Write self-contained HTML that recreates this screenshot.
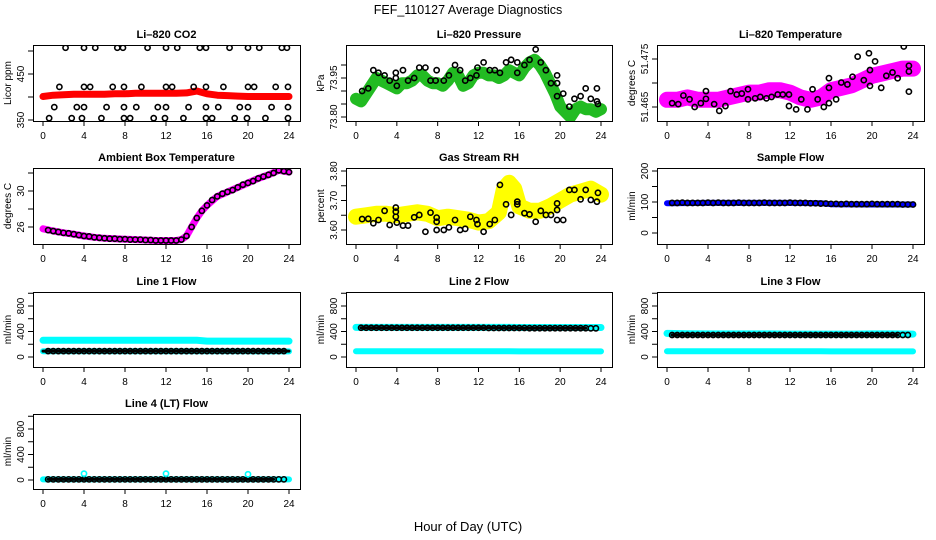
<!DOCTYPE html>
<html><head><meta charset="utf-8"><style>
html,body{margin:0;padding:0;background:#fff}
svg{display:block;font-family:"Liberation Sans",sans-serif}
</style></head><body>
<svg id="chart" width="936" height="540" viewBox="0 0 936 540" xmlns="http://www.w3.org/2000/svg">
<text x="468" y="14" text-anchor="middle" font-size="12.5">FEF_110127  Average Diagnostics</text>
<text x="468" y="531" text-anchor="middle" font-size="13">Hour of Day (UTC)</text>
</svg>
<script>
// ---------- data ----------
const xTicks=[0,4,8,12,16,20,24];
const co2BandH=[0,1,2,3,4,5,6,7,8,9,10,11,12,13,14,15,16,17,18,19,20,21,22,23,24];
const co2BandV=[401,404,405,406,406,406,406,407,407,408,408,408,408,408,409,413,407,404,403,402,401,401,401,401,401];
const co2BlackH=[2.2,4.0,5.1,7.25,7.8,10.2,12.0,13.1,15.3,15.9,18.2,20.0,21.1,23.3,23.8,
1.6,4.0,4.6,6.8,7.9,9.6,12.0,12.6,14.7,15.9,17.6,20.0,20.6,22.7,23.9,
1.1,3.3,4.0,6.2,7.9,9.1,11.2,12.0,14.2,15.9,17.1,19.2,20.0,22.3,23.9,
0.6,2.8,3.8,5.7,7.9,8.5,10.8,11.9,13.7,15.9,16.5,18.7,19.9,21.7,23.9];
const co2BlackV=[507,507,507,507,507,507,507,507,507,507,507,507,507,507,507,
422,422,422,422,422,422,422,422,422,422,422,422,422,422,422,
378,378,378,378,378,378,378,378,378,378,378,378,378,378,378,
354,354,354,354,354,354,354,354,354,354,354,354,354,354,354];
const prBandH=[0,0.5,1,1.5,2,2.5,3,3.5,4,4.5,5,5.5,6,6.5,7,7.5,8,8.5,9,9.5,10,10.5,11,11.5,12,12.5,13,13.5,14,14.5,15,15.5,16,16.5,17,17.5,18,18.5,19,19.5,20,20.5,21,21.5,22,22.5,23,23.5,24];
const prBandV=[73.87,73.86,73.89,73.92,73.95,73.94,73.93,73.92,73.91,73.93,73.93,73.94,73.96,73.96,73.94,73.93,73.93,73.92,73.94,73.97,73.96,73.92,73.93,73.96,73.97,73.97,73.96,73.96,73.95,73.96,73.98,73.97,73.96,73.99,74.01,74.02,74.00,73.97,73.93,73.89,73.84,73.82,73.80,73.83,73.84,73.83,73.83,73.82,73.83];
const prBlackH=[0.6,1.2,1.7,2.2,2.8,3.3,3.9,3.9,4.0,4.6,5.1,5.7,6.2,6.8,7.3,7.8,7.9,8.6,9.1,9.7,10.2,10.7,11.2,11.8,11.9,12.5,13.1,13.6,14.1,14.7,15.2,15.8,15.8,16.5,17.0,17.6,18.1,18.6,19.1,19.7,19.7,19.7,20.3,20.9,21.4,22.0,22.5,23.0,23.6,23.6,23.7];
const prBlackV=[73.90,73.91,73.98,73.97,73.96,73.94,73.97,73.95,73.92,73.98,73.94,73.95,73.99,73.99,73.94,73.94,73.98,73.94,73.96,74.00,73.98,73.94,73.95,73.96,73.99,74.01,73.98,73.98,73.97,74.01,74.02,74.01,73.97,74.00,74.02,74.06,74.01,73.98,73.93,73.93,73.96,73.88,73.89,73.84,73.87,73.88,73.91,73.87,73.91,73.86,73.85];
const ltBandH=[0,1,2,3,4,5,6,7,8,9,10,11,12,13,14,15,16,17,18,19,20,21,22,23,24];
const ltBandV=[51.4665,51.4665,51.467,51.4665,51.4665,51.4665,51.467,51.4675,51.468,51.468,51.4685,51.4685,51.468,51.467,51.4665,51.467,51.4685,51.469,51.4695,51.4705,51.4715,51.472,51.4725,51.473,51.473];
const ltBlackH=[0.5,1.1,1.6,2.2,2.7,3.3,3.8,3.8,4.6,5.1,5.7,6.2,6.8,7.3,7.9,7.9,8.6,9.1,9.7,10.2,10.8,11.3,11.9,11.9,12.6,13.1,13.7,14.2,14.7,15.3,15.8,15.8,15.8,16.5,17.0,17.6,18.1,18.6,19.2,19.7,19.8,19.8,20.3,20.9,21.4,22.0,22.5,23.1,23.6,23.6,23.6];
const ltBlackV=[51.4658,51.4656,51.4674,51.4666,51.465,51.4658,51.4683,51.4667,51.4656,51.4642,51.4652,51.4683,51.4676,51.4678,51.4687,51.4666,51.4668,51.4671,51.4668,51.4671,51.4676,51.4676,51.4676,51.4652,51.4645,51.4666,51.4645,51.4687,51.4666,51.465,51.471,51.469,51.4658,51.4666,51.4701,51.4697,51.4713,51.4755,51.4706,51.4762,51.4727,51.4694,51.4745,51.469,51.4715,51.4722,51.471,51.4776,51.4736,51.4724,51.4682];
const ambBandH=[0,1,2,3,4,5,6,7,8,9,10,11,12,13,13.5,14,14.5,15,15.5,16,17,18,19,20,21,22,23,23.5,24];
const ambBandV=[25.8,25.55,25.35,25.2,25.0,24.85,24.75,24.7,24.65,24.6,24.55,24.5,24.5,24.5,24.6,25.0,26.0,27.0,27.8,28.4,29.4,29.9,30.4,30.9,31.4,31.8,32.3,32.2,32.1];
const ambBlackH=[0.5,1,1.5,2,2.5,3,3.5,4,4.5,5,5.5,6,6.5,7,7.5,8,8.5,9,9.5,10,10.5,11,11.5,12,12.5,13,13.5,14,14.5,15,15.5,16,16.5,17,17.5,18,18.5,19,19.5,20,20.5,21,21.5,22,22.5,23,23.5,24];
const ambBlackV=[25.65,25.55,25.45,25.35,25.3,25.2,25.1,25.0,24.95,24.85,24.8,24.75,24.7,24.7,24.65,24.65,24.6,24.6,24.6,24.55,24.55,24.5,24.5,24.5,24.5,24.5,24.6,25.0,26.0,27.0,27.8,28.4,29.0,29.4,29.7,29.9,30.1,30.4,30.7,30.9,31.1,31.4,31.6,31.8,32.0,32.3,32.2,32.1];
const rhBandH=[0,1,2,3,4,5,6,7,8,9,10,11,12,13,14,14.5,15,15.5,16,17,18,19,20,21,22,23,24];
const rhBandV=[3.645,3.65,3.655,3.655,3.65,3.655,3.66,3.655,3.64,3.645,3.64,3.635,3.625,3.63,3.66,3.74,3.76,3.74,3.68,3.665,3.665,3.68,3.70,3.72,3.73,3.74,3.72];
const rhBlackH=[0.6,1.2,1.7,2.2,2.8,3.3,3.9,3.9,3.9,4.0,4.6,5.1,5.7,6.2,6.8,7.3,7.9,7.9,7.9,8.6,9.1,9.7,10.2,10.7,11.2,11.8,11.9,12.5,13.1,13.6,14.1,14.7,15.2,15.8,15.8,16.5,17.0,17.6,18.1,18.6,19.1,19.7,19.7,19.7,20.3,20.9,21.4,22.0,22.5,23.0,23.6,23.7];
const rhBlackV=[3.637,3.638,3.623,3.634,3.665,3.617,3.676,3.662,3.645,3.625,3.615,3.615,3.643,3.651,3.594,3.659,3.642,3.628,3.600,3.600,3.609,3.634,3.600,3.604,3.645,3.634,3.620,3.594,3.620,3.634,3.753,3.687,3.651,3.696,3.687,3.657,3.653,3.628,3.665,3.651,3.651,3.690,3.668,3.634,3.634,3.736,3.736,3.704,3.736,3.702,3.696,3.726];
const sfBandH=[0,4,8,12,15,16,20,24];
const sfBandV=[96,97,97,97,96,93,92,92];
const sfBlackH=[0.5,1,1.5,2,2.5,3,3.5,4,4.5,5,5.5,6,6.5,7,7.5,8,8.5,9,9.5,10,10.5,11,11.5,12,12.5,13,13.5,14,14.5,15,15.5,16,16.5,17,17.5,18,18.5,19,19.5,20,20.5,21,21.5,22,22.5,23,23.5,24];
const sfBlackV=[97,97,98,97,97,97,97,98,97,98,97,97,97,98,97,97,97,97,98,97,97,97,97,98,97,97,97,96,96,95,95,94,94,93,94,93,93,93,93,94,93,93,93,93,93,92,92,92];
const flowH=[0,2,4,6,8,10,12,14,15,16,18,20,22,24];
const l1CyanHi=[262,262,262,262,262,262,262,262,262,250,250,250,250,250];
const l1CyanLo=[90,90,90,90,90,90,90,90,90,90,90,90,88,88];
const l1Black=[92,92,92,92,92,92,92,92,92,92,92,92,92,92];
const l2CyanHi=[465,465,465,465,465,465,465,465,465,462,462,462,462,462];
const l2CyanLo=[90,90,90,90,90,90,90,90,90,88,88,88,88,88];
const l2Black=[459,459,459,459,459,459,459,455,455,452,452,452,450,450];
const l3CyanHi=[370,365,362,362,362,362,360,360,360,360,360,362,362,360];
const l3CyanLo=[90,90,90,90,90,90,90,90,90,88,88,88,88,88];
const l3Black=[345,345,345,345,345,345,345,345,345,345,345,345,345,345];
const l4Cyan=[10,10,10,10,10,10,10,10,10,10,10,10,10,10];
const l4Black=[10,10,10,10,10,10,10,10,10,10,10,10,10,10];
const l4SpikeH=[4,12,20];
const l4SpikeV=[100,100,90];
const flowTicks=[0,200,400,600,800,1000];
const flowLabels=["0","","400","","800",""];

// ---------- drawing ----------
const svg=document.getElementById('chart');
const NS='http://www.w3.org/2000/svg';
function mk(tag,attrs,parent){const e=document.createElementNS(NS,tag);for(const k in attrs)e.setAttribute(k,attrs[k]);(parent||svg).appendChild(e);return e;}
const cols=[{l:33,r:300},{l:346,r:612},{l:657,r:924}];
const rows=[{t:45,b:121},{t:168,b:244},{t:292,b:367},{t:414,b:489}];

function panel(name,title,ylab,col,row,v0,y0,v1,y1,yt,yl){
  const C=cols[col],R=rows[row];
  const g=mk('g',{});
  
  
  const xs=h=>C.l+10+h*(C.r-C.l-21)/24;
  const ys=v=>y0+(v-v0)*(y1-y0)/(v1-v0);
  const t=mk('text',{x:(C.l+C.r)/2,y:R.t-7,'text-anchor':'middle','font-size':'11','font-weight':'bold'},g);
  t.textContent=title;
  
  
  const yt2=mk('text',{x:0,y:0,'text-anchor':'middle','font-size':'10',transform:`translate(${C.l-22},${(R.t+R.b)/2}) rotate(-90)`},g);
  yt2.textContent=ylab;
  
  
  const xa=mk('g',{stroke:'#000','stroke-width':'1'},g);
  
  
  xTicks.forEach(h=>{
    mk('line',{x1:xs(h),x2:xs(h),y1:R.b,y2:R.b+5},xa);
    const lb=mk('text',{x:xs(h),y:R.b+18,'text-anchor':'middle','font-size':'10',stroke:'none'},xa);
    lb.textContent=String(h);
    
    
  });
  const ya=mk('g',{stroke:'#000','stroke-width':'1'},g);
  
  
  yt.forEach((v,i)=>{
    mk('line',{x1:C.l,x2:C.l-5,y1:ys(v),y2:ys(v)},ya);
    if(yl[i]){
      const lb=mk('text',{x:0,y:0,'text-anchor':'middle','font-size':'10',stroke:'none',transform:`translate(${C.l-9},${ys(v)}) rotate(-90)`},ya);
      lb.textContent=yl[i];
      
      
    }
  });
  const clipId='c'+name;
  const cp=mk('clipPath',{id:clipId},g);
  mk('rect',{x:C.l,y:R.t,width:C.r-C.l,height:R.b-R.t},cp);
  const plot=mk('g',{'clip-path':`url(#${clipId})`},g);
  const box=mk('rect',{x:C.l+0.5,y:R.t+0.5,width:C.r-C.l,height:R.b-R.t,fill:'none',stroke:'#000','stroke-width':'1'},g);
  
  
  return {xs,ys,plot};
}
function band(p,H,V,color,w,name){
  const pts=H.map((h,i)=>p.xs(h).toFixed(1)+','+p.ys(V[i]).toFixed(1)).join(' ');
  const pl=mk('polyline',{points:pts,fill:'none',stroke:color,'stroke-width':w,'stroke-linejoin':'round','stroke-linecap':'round'},p.plot);
  
  
}
function points(p,H,V,color,name){
  const g=mk('g',{fill:'none',stroke:color,'stroke-width':'1.6'},p.plot);
  
  
  H.forEach((h,i)=>{
    const c=mk('circle',{cx:p.xs(h),cy:p.ys(V[i]),r:2.6},g);
    
    
  });
}
const seq=(a,b,s)=>{const r=[];for(let x=a;x<=b+1e-9;x+=s)r.push(+x.toFixed(3));return r;};
const pts05=seq(0.5,23.5,0.5);

let p;
p=panel('co2-panel','Li\u2013820 CO2','Licor ppm',0,0,350,120,450,74,[350,400,450,500],['350','','450','']);
band(p,co2BandH,co2BandV,'#ff0000',7,'co2-red-band');
points(p,co2BlackH,co2BlackV,'#000','co2-black-points');

p=panel('pressure-panel','Li\u2013820 Pressure','kPa',1,0,73.80,117,73.95,78,[73.80,73.85,73.90,73.95,74.00],['73.80','','','73.95','']);
band(p,prBandH,prBandV,'#22bb22',12,'pressure-green-band');
points(p,prBlackH,prBlackV,'#000','pressure-black-points');

p=panel('li820-temp-panel','Li\u2013820 Temperature','degrees C',2,0,51.465,107,51.475,59,[51.465,51.470,51.475],['51.465','','51.475']);
band(p,ltBandH,ltBandV,'#ff00ff',16,'li820-temp-magenta-band');
points(p,ltBlackH,ltBlackV,'#000','li820-temp-black-points');

p=panel('ambient-panel','Ambient Box Temperature','degrees C',0,1,26,227,30,191,[26,28,30,32],['26','','30','']);
band(p,ambBandH,ambBandV,'#ff00ff',7,'ambient-magenta-band');
points(p,ambBlackH,ambBlackV,'#000','ambient-black-points');

p=panel('rh-panel','Gas Stream RH','percent',1,1,3.60,230,3.70,200.5,[3.60,3.65,3.70,3.75,3.80],['3.60','','3.70','','3.80']);
band(p,rhBandH,rhBandV,'#ffff00',16,'rh-yellow-band');
points(p,rhBlackH,rhBlackV,'#000','rh-black-points');

p=panel('sample-flow-panel','Sample Flow','ml/min',2,1,0,233,200,171,[0,50,100,150,200],['0','','100','','200']);
band(p,sfBandH,sfBandV,'#0000ff',6,'sample-flow-blue-band');
points(p,sfBlackH,sfBlackV,'#000','sample-flow-black-points');

p=panel('line1-panel','Line 1 Flow','ml/min',0,2,0,357,800,306,flowTicks,flowLabels);
band(p,flowH,l1CyanHi,'#00ffff',7,'line1-cyan-high');
band(p,flowH,l1CyanLo,'#00ffff',6,'line1-cyan-low');
band(p,flowH,l1Black,'#000',3,'line1-black-line');
points(p,pts05,pts05.map(h=>l1Black[0]),'#000','line1-black-points');

p=panel('line2-panel','Line 2 Flow','ml/min',1,2,0,357,800,306,flowTicks,flowLabels);
band(p,flowH,l2CyanHi,'#00ffff',7,'line2-cyan-high');
band(p,flowH,l2CyanLo,'#00ffff',6,'line2-cyan-low');
band(p,flowH.slice(0,13).map(h=>h+0.5),l2Black.slice(0,13),'#000',3,'line2-black-line');
points(p,pts05,pts05.map(h=>l2Black[Math.min(13,Math.round(h/2))]),'#000','line2-black-points');

p=panel('line3-panel','Line 3 Flow','ml/min',2,2,0,357,800,306,flowTicks,flowLabels);
band(p,flowH,l3CyanHi,'#00ffff',7,'line3-cyan-high');
band(p,flowH,l3CyanLo,'#00ffff',6,'line3-cyan-low');
band(p,flowH.slice(0,13).map(h=>h+0.5),l3Black.slice(0,13),'#000',3,'line3-black-line');
points(p,pts05,pts05.map(h=>l3Black[Math.min(13,Math.round(h/2))]),'#000','line3-black-points');

p=panel('line4-panel','Line 4 (LT) Flow','ml/min',0,3,0,480,800,429,flowTicks,flowLabels);
band(p,flowH,l4Cyan,'#00ffff',6,'line4-cyan-band');
band(p,flowH.slice(0,13).map(h=>h+0.5),l4Black.slice(0,13),'#000',3,'line4-black-line');
points(p,pts05,pts05.map(h=>l4Black[0]),'#000','line4-black-points');
points(p,l4SpikeH,l4SpikeV,'#00ffff','line4-cyan-spikes');
</script>
</body></html>
